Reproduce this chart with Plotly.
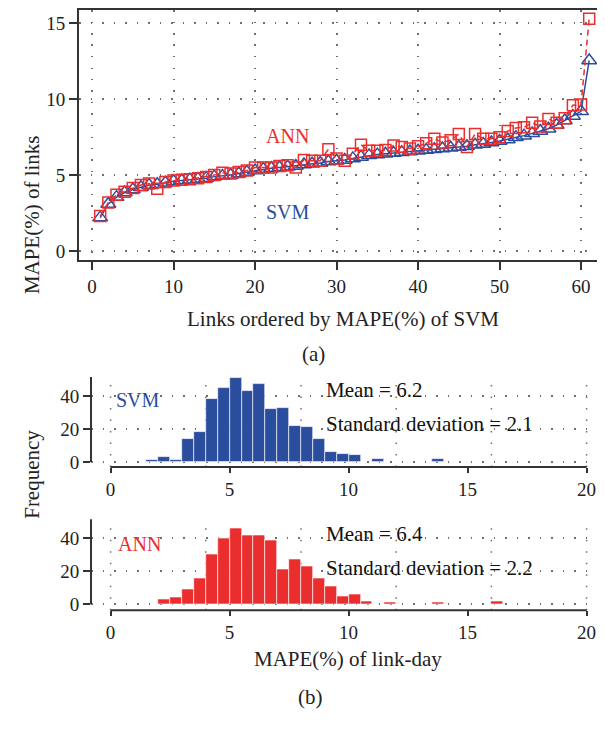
import plotly.graph_objects as go

# The page body has an 8px margin, so the figure is drawn 8px in from the
# window's top-left corner; size it so it exactly fills the 605x731 window.
OFF = 8
W, H = 605 - OFF, 731 - OFF

# ---------------- data ----------------
link_rank = list(range(1, 62))
svm_mape = [2.2, 3.1, 3.55, 3.85, 4.05, 4.2, 4.35, 4.4, 4.5, 4.6,
            4.65, 4.7, 4.75, 4.8, 4.9, 4.95, 5.0, 5.1, 5.2, 5.3,
            5.4, 5.45, 5.5, 5.55, 5.6, 5.7, 5.75, 5.8, 5.9, 5.95,
            6.0, 6.1, 6.2, 6.3, 6.35, 6.4, 6.45, 6.5, 6.55, 6.6,
            6.65, 6.7, 6.75, 6.8, 6.85, 6.9, 7.0, 7.05, 7.15, 7.25,
            7.35, 7.5, 7.6, 7.75, 7.9, 8.05, 8.3, 8.6, 8.9, 9.2, 12.55]
ann_mape = [2.3, 3.2, 3.7, 3.9, 4.15, 4.35, 4.45, 4.1, 4.55, 4.65,
            4.7, 4.72, 4.8, 4.88, 5.0, 5.15, 5.1, 5.2, 5.3, 5.5,
            5.5, 5.5, 5.6, 5.65, 5.5, 6.0, 5.95, 5.95, 6.7, 6.1,
            5.95, 6.4, 7.0, 6.6, 6.6, 6.65, 6.95, 6.85, 6.75, 6.9,
            7.1, 7.4, 7.15, 7.3, 7.7, 6.85, 7.7, 7.4, 7.4, 7.5,
            7.9, 8.1, 8.15, 8.45, 8.2, 8.7, 8.45, 8.75, 9.6, 9.65, 15.3]

bin_width = 0.5
svm_bin_left = [1.5, 2.0, 2.5, 3.0, 3.5, 4.0, 4.5, 5.0, 5.5, 6.0, 6.5, 7.0,
                7.5, 8.0, 8.5, 9.0, 9.5, 10.0, 11.0, 13.5]
svm_freq = [1, 3, 1, 14, 18, 38, 45, 51, 43, 47, 32, 33,
            22, 21, 14, 6, 5, 4, 2, 2]
ann_bin_left = [2.0, 2.5, 3.0, 3.5, 4.0, 4.5, 5.0, 5.5, 6.0, 6.5, 7.0, 7.5,
                8.0, 8.5, 9.0, 9.5, 10.0, 10.5, 11.5, 13.5, 16.0]
ann_freq = [3, 4, 9, 16, 30, 40, 46, 42, 42, 39, 21, 27,
            23, 16, 11, 5, 6, 2, 1, 1, 2]

svm_stats = ["Mean = 6.2", "Standard deviation = 2.1"]
ann_stats = ["Mean = 6.4", "Standard deviation = 2.2"]

# ---------------- style ----------------
BLUE = "#2a4d9e"
RED = "#ea2e2e"
AX = "#333333"
GRID = "#707070"
FONT = "Liberation Serif"


def px_x(p):
    return min(1.0, max(0.0, (p - OFF) / W))


def px_y(p):
    return min(1.0, max(0.0, 1 - (p - OFF) / H))


fig = go.Figure()

# (a) line chart
fig.add_trace(go.Scatter(
    x=link_rank, y=svm_mape, mode="lines+markers",
    line=dict(color=BLUE, width=1.5),
    marker=dict(symbol="triangle-up-open", size=13, color=BLUE, line=dict(width=1.5, color=BLUE)),
    xaxis="x", yaxis="y", showlegend=False, cliponaxis=False))
fig.add_trace(go.Scatter(
    x=link_rank, y=ann_mape, mode="lines+markers",
    line=dict(color=RED, width=1.5, dash="6px,4px"),
    marker=dict(symbol="square-open", size=11, color=RED, line=dict(width=1.5, color=RED)),
    xaxis="x", yaxis="y", showlegend=False, cliponaxis=False))

# (b) histograms
fig.add_trace(go.Bar(
    x=[b + bin_width / 2 for b in svm_bin_left], y=svm_freq, width=bin_width,
    marker=dict(color=BLUE, line=dict(color="white", width=0.6)),
    xaxis="x2", yaxis="y2", showlegend=False))
fig.add_trace(go.Bar(
    x=[b + bin_width / 2 for b in ann_bin_left], y=ann_freq, width=bin_width,
    marker=dict(color=RED, line=dict(color="white", width=0.6)),
    xaxis="x3", yaxis="y3", showlegend=False))

tickfont = dict(family=FONT, size=19, color="#222")
dot_grid = "1.5px,10px"

# pixel geometry (reference window pixels)
top_l, top_t, top_b = 79, 8, 261
top_zero, top_px_per_unit = 251.7, 15.35
h_l, h_r = 91, 600
h1_t, h1_b, h1_zero = 378, 470, 465
h2_t, h2_b, h2_zero = 522, 615, 609
px_per_unit_h = 1.67
x0_px, px_per_x = 110.6, 23.8

fig.update_layout(
    width=W, height=H,
    margin=dict(l=0, r=0, t=0, b=0),
    paper_bgcolor="white", plot_bgcolor="white",
    bargap=0,
    xaxis=dict(domain=[px_x(top_l), 1], range=[-1.6, 62.94], anchor="y",
               tickvals=[0, 10, 20, 30, 40, 50, 60], ticks="outside", ticklen=8, tickwidth=1.5,
               tickcolor=AX, showline=True, linecolor=AX, linewidth=2, mirror=True,
               showgrid=True, gridcolor=GRID, gridwidth=1.5, griddash=dot_grid,
               zeroline=False, tickfont=tickfont),
    yaxis=dict(domain=[px_y(top_b), px_y(top_t)],
               range=[-(top_b - top_zero) / top_px_per_unit, (top_zero - top_t) / top_px_per_unit],
               anchor="x",
               tickvals=[0, 5, 10, 15], ticks="outside", ticklen=8, tickwidth=1.5,
               tickcolor=AX, showline=True, linecolor=AX, linewidth=2,
               showgrid=True, gridcolor=GRID, gridwidth=1.5, griddash=dot_grid,
               zeroline=False, tickfont=tickfont),
    xaxis2=dict(domain=[px_x(h_l), px_x(h_r)],
                range=[(h_l - x0_px) / px_per_x, (h_r - x0_px) / px_per_x], anchor="y2",
                tickvals=[0, 5, 10, 15, 20], ticks="outside", ticklen=5, tickwidth=1.5,
                tickcolor=AX, showline=False,
                showgrid=False, zeroline=False, tickfont=tickfont),
    yaxis2=dict(domain=[px_y(h1_b), px_y(h1_t)],
                range=[-(h1_b - h1_zero) / px_per_unit_h, (h1_zero - h1_t) / px_per_unit_h],
                anchor="x2", tickvals=[0, 20, 40], ticks="outside", ticklen=7, tickwidth=1.5,
                tickcolor=AX, showline=False,
                showgrid=True, gridcolor=GRID, gridwidth=1.5, griddash=dot_grid,
                zeroline=False, tickfont=tickfont),
    xaxis3=dict(domain=[px_x(h_l), px_x(h_r)],
                range=[(h_l - x0_px) / px_per_x, (h_r - x0_px) / px_per_x], anchor="y3",
                tickvals=[0, 5, 10, 15, 20], ticks="outside", ticklen=5, tickwidth=1.5,
                tickcolor=AX, showline=False,
                showgrid=False, zeroline=False, tickfont=tickfont),
    yaxis3=dict(domain=[px_y(h2_b), px_y(h2_t)],
                range=[-(h2_b - h2_zero) / px_per_unit_h, (h2_zero - h2_t) / px_per_unit_h],
                anchor="x3", tickvals=[0, 20, 40], ticks="outside", ticklen=7, tickwidth=1.5,
                tickcolor=AX, showline=False,
                showgrid=True, gridcolor=GRID, gridwidth=1.5, griddash=dot_grid,
                zeroline=False, tickfont=tickfont),
)

# dotted vertical grid in histograms, axis lines drawn only over tick span
shapes = []
for xa, ya in (("x2", "y2"), ("x3", "y3")):
    for gx in [0, 4, 8, 12, 16, 20]:
        shapes.append(dict(type="line", xref=xa, yref=ya + " domain", x0=gx, x1=gx, y0=0, y1=1,
                           line=dict(color=GRID, width=1.5, dash=dot_grid), layer="below"))
    shapes.append(dict(type="line", xref=xa, yref=ya + " domain", x0=0, x1=20, y0=0, y1=0,
                       line=dict(color=AX, width=2)))
    shapes.append(dict(type="line", xref=xa + " domain", yref=ya, x0=0, x1=0, y0=0, y1=51.5,
                       line=dict(color=AX, width=2)))
fig.update_layout(shapes=shapes)

ann = []
lab_size = 21
ann.append(dict(x=24, y=7.6, xref="x", yref="y", text="ANN", showarrow=False,
                font=dict(family=FONT, size=20, color=RED)))
ann.append(dict(x=24, y=2.6, xref="x", yref="y", text="SVM", showarrow=False,
                font=dict(family=FONT, size=20, color=BLUE)))
ann.append(dict(x=1.15, y=37.7, xref="x2", yref="y2", text="SVM", showarrow=False,
                font=dict(family=FONT, size=20, color=BLUE)))
ann.append(dict(x=1.2, y=36.5, xref="x3", yref="y3", text="ANN", showarrow=False,
                font=dict(family=FONT, size=20, color=RED)))
for (txt, yv) in zip(svm_stats, [43.7, 22.8]):
    ann.append(dict(x=8.97, y=yv, xref="x2", yref="y2", text=txt, showarrow=False,
                    xanchor="left", font=dict(family=FONT, size=lab_size, color="#111")))
for (txt, yv) in zip(ann_stats, [42.5, 22.2]):
    ann.append(dict(x=8.97, y=yv, xref="x3", yref="y3", text=txt, showarrow=False,
                    xanchor="left", font=dict(family=FONT, size=lab_size, color="#111")))
# titles
title_font = dict(family=FONT, size=21, color="#222")
ann.append(dict(x=px_x(343), y=px_y(320), xref="paper", yref="paper",
                text="Links ordered by MAPE(%) of SVM", showarrow=False, font=title_font))
ann.append(dict(x=px_x(313), y=px_y(356), xref="paper", yref="paper", text="(a)",
                showarrow=False, font=title_font))
ann.append(dict(x=px_x(18), y=px_y(133), xref="paper", yref="paper", text="MAPE(%) of links",
                textangle=-90, showarrow=False, font=title_font))
ann.append(dict(x=px_x(18), y=px_y(478), xref="paper", yref="paper", text="Frequency",
                textangle=-90, showarrow=False, font=title_font))
ann.append(dict(x=px_x(348), y=px_y(678), xref="paper", yref="paper",
                text="MAPE(%) of link-day", showarrow=False, font=title_font))
ann.append(dict(x=px_x(310), y=px_y(717), xref="paper", yref="paper", text="(b)",
                showarrow=False, font=title_font))
fig.update_layout(annotations=ann)

fig.write_html("out.html")
